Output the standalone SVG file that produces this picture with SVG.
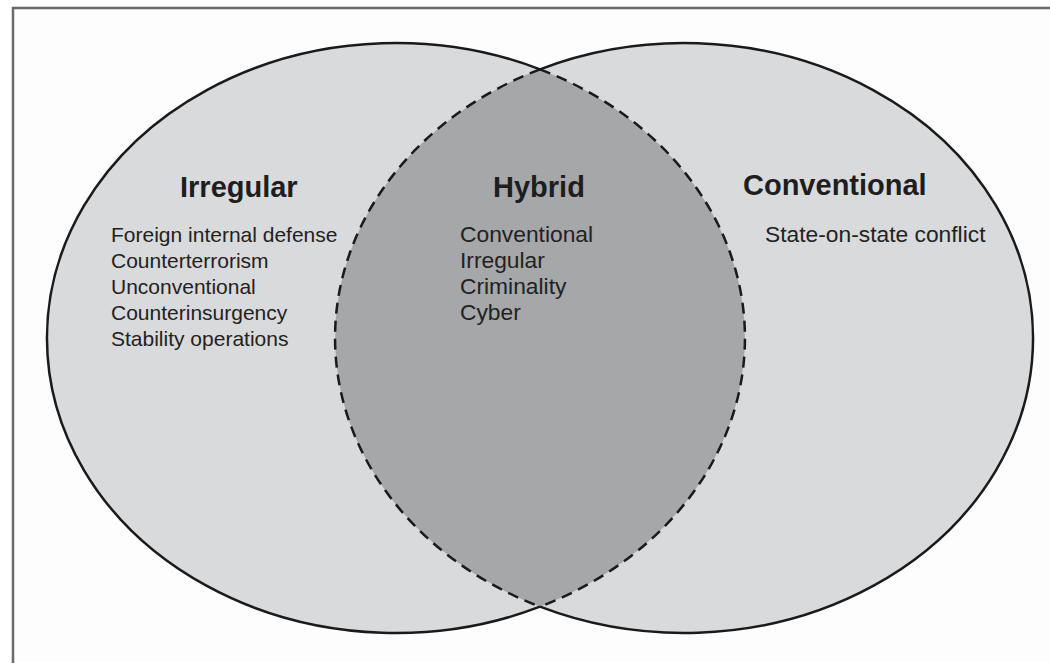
<svg xmlns="http://www.w3.org/2000/svg" width="1050" height="665" viewBox="0 0 1050 665">
<style>
.frame{fill:none;stroke:#6a6a6a;stroke-width:2.5}
.set{fill:#d9dadc;stroke:none}
.lens{fill:#a6a7a9;stroke:none}
.solid{fill:none;stroke:#1a1a1a;stroke-width:2.5}
.dash{fill:none;stroke:#1a1a1a;stroke-width:2.5;stroke-dasharray:11 7}
.head{font-family:"Liberation Sans",Arial,sans-serif;font-weight:bold;font-size:29px;fill:#1e1e1e}
.item{font-family:"Liberation Sans",Arial,sans-serif;font-size:21px;fill:#222}
.item2{font-family:"Liberation Sans",Arial,sans-serif;font-size:22.8px;fill:#222}
</style>
<rect x="0" y="0" width="1050" height="665" fill="#ffffff"/>
<rect x="13" y="8" width="1050" height="654" fill="#fdfdfd"/>
<path class="frame" d="M13,663 V8 H1050"/>
<g id="irregular">
<ellipse class="set" cx="396" cy="338" rx="349" ry="295"/>
</g>
<g id="conventional">
<ellipse class="set" cx="684" cy="338" rx="349" ry="295"/>
</g>
<g id="hybrid">
<path class="lens" d="M540,69.3 A349,295 0 0,1 540,606.7 A349,295 0 0,1 540,69.3 Z"/>
</g>
<g id="outlines">
<path class="solid" d="M540,69.3 A349,295 0 1,0 540,606.7"/>
<path class="solid" d="M540,69.3 A349,295 0 1,1 540,606.7"/>
<path class="dash" d="M540,69.3 A349,295 0 0,1 540,606.7"/>
<path class="dash" d="M540,69.3 A349,295 0 0,0 540,606.7"/>
</g>
<g id="irregular-text">
<text class="head" x="180" y="197">Irregular</text>
<text class="item" x="111" y="242">Foreign internal defense</text>
<text class="item" x="111" y="268">Counterterrorism</text>
<text class="item" x="111" y="294">Unconventional</text>
<text class="item" x="111" y="320">Counterinsurgency</text>
<text class="item" x="111" y="346">Stability operations</text>
</g>
<g id="hybrid-text">
<text class="head" x="493" y="197">Hybrid</text>
<text class="item2" x="460" y="242">Conventional</text>
<text class="item2" x="460" y="268">Irregular</text>
<text class="item2" x="460" y="294">Criminality</text>
<text class="item2" x="460" y="320">Cyber</text>
</g>
<g id="conventional-text">
<text class="head" x="743" y="195">Conventional</text>
<text class="item2" x="765" y="242">State-on-state conflict</text>
</g>
</svg>
